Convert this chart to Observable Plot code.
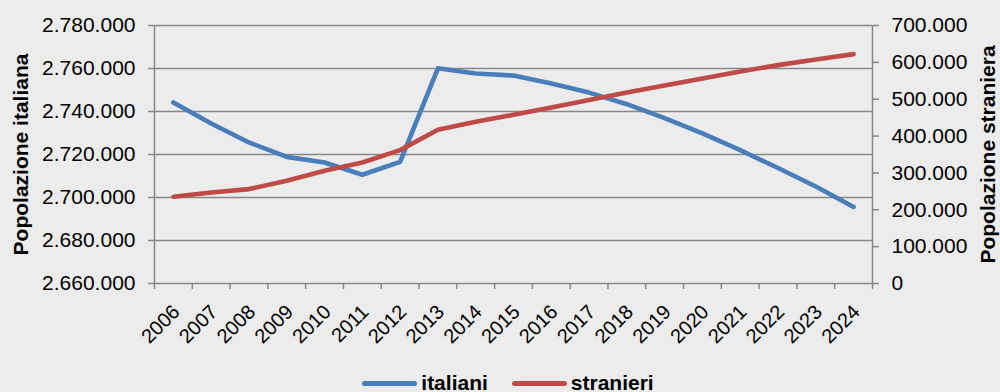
<!DOCTYPE html>
<html>
<head>
<meta charset="utf-8">
<script src="https://cdn.jsdelivr.net/npm/d3@7"></script>
<script src="https://cdn.jsdelivr.net/npm/@observablehq/plot@0.6"></script>
<style>
  html, body { margin: 0; padding: 0; }
  body { background: #ececec; width: 1000px; height: 392px; overflow: hidden; position: relative;
         font-family: "Liberation Sans", Arial, sans-serif; }
  #chart svg { display: block; }
  #legend { position: absolute; top: 368px; left: 0; width: 1000px; height: 30px; box-sizing: border-box;
            padding-left: 16px; display: flex; justify-content: center; align-items: center;
            font-weight: bold; font-size: 21px; color: #000; }
  .sw { display: inline-block; width: 55px; height: 5px; border-radius: 3px; margin-right: 4px; }
  .item { display: flex; align-items: center; }
</style>
</head>
<body>
<div id="chart"></div>
<div id="legend"></div>
<script>
// ---- data ----
const years = [2006, 2007, 2008, 2009, 2010, 2011, 2012, 2013, 2014, 2015, 2016, 2017, 2018, 2019, 2020, 2021, 2022, 2023, 2024];
const italiani = [2744200, 2734400, 2725600, 2718900, 2716300, 2710600, 2716600, 2760100, 2757700, 2756700, 2753000, 2748800, 2743400, 2736900, 2729800, 2722000, 2713700, 2705100, 2695600];
const stranieri = [235200, 246900, 256100, 278600, 305800, 328300, 361900, 417000, 438700, 457700, 477500, 497600, 518000, 537500, 556500, 575000, 592500, 608000, 622400];
const leftTicks = [2660000, 2680000, 2700000, 2720000, 2740000, 2760000, 2780000];
const rightTicks = [0, 100000, 200000, 300000, 400000, 500000, 600000, 700000];
const seriesNames = ["italiani", "stranieri"];
const seriesColors = ["#4a7ebb", "#be4b48"];
const leftTitle = "Popolazione italiana";
const rightTitle = "Popolazione straniera";

// ---- helpers ----
const fmt = d3.formatLocale({decimal: ",", thousands: ".", grouping: [3], currency: ["", "€"]}).format(",d");
const L0 = leftTicks[0], L1 = leftTicks[leftTicks.length - 1];
const R0 = rightTicks[0], R1 = rightTicks[rightTicks.length - 1];
const toLeft = v => L0 + (v - R0) * (L1 - L0) / (R1 - R0);
const fromLeft = d => Math.round((R0 + (d - L0) * (R1 - R0) / (L1 - L0)) / 1000) * 1000;
const boundaries = [years[0] - 0.5, ...years.map(y => y + 0.5)];

const itaData = years.map((y, i) => ({year: y, v: italiani[i]}));
const strData = years.map((y, i) => ({year: y, v: toLeft(stranieri[i])}));

const grid = "#878787";

const chart = Plot.plot({
  width: 1000,
  height: 360,
  marginLeft: 154,
  marginRight: 128,
  marginTop: 25,
  marginBottom: 77,
  style: {background: "transparent", fontFamily: "'Liberation Sans', Arial, sans-serif", fontSize: "21px", color: "#000"},
  x: {type: "linear", domain: [boundaries[0], boundaries[boundaries.length - 1]]},
  y: {domain: [L0, L1]},
  marks: [
    Plot.ruleY(leftTicks, {stroke: grid, strokeWidth: 1.5}),
    Plot.ruleX([boundaries[0], boundaries[boundaries.length - 1]], {stroke: grid, strokeWidth: 1.5}),
    Plot.axisY(leftTicks, {anchor: "left", tickSize: 6, tickPadding: 13, tickFormat: fmt, label: null,
      stroke: grid, strokeWidth: 1.5, fill: "#000", fontSize: 21}),
    Plot.axisY(rightTicks.map(toLeft), {anchor: "right", tickSize: 6, tickPadding: 13, tickFormat: d => fmt(fromLeft(d)), label: null,
      stroke: grid, strokeWidth: 1.5, fill: "#000", fontSize: 21}),
    Plot.axisX(boundaries, {anchor: "bottom", tickSize: 6, tickFormat: () => "", label: null, stroke: grid, strokeWidth: 1.5}),
    Plot.axisX(years, {anchor: "bottom", tickSize: 0, tickRotate: -45, tickPadding: 25, dx: 3, tickFormat: d => String(d), label: null,
      fill: "#000", fontSize: 20}),
    Plot.line(itaData, {x: "year", y: "v", stroke: seriesColors[0], strokeWidth: 4.6, strokeLinecap: "round", strokeLinejoin: "round"}),
    Plot.line(strData, {x: "year", y: "v", stroke: seriesColors[1], strokeWidth: 4.6, strokeLinecap: "round", strokeLinejoin: "round"}),
    Plot.text([leftTitle], {frameAnchor: "left", textAnchor: "middle", lineAnchor: "middle", rotate: -90, dx: -133, fontWeight: "bold", fontSize: 21, fill: "#000"}),
    Plot.text([rightTitle], {frameAnchor: "right", textAnchor: "middle", lineAnchor: "middle", rotate: -90, dx: 116, fontWeight: "bold", fontSize: 21, fill: "#000"})
  ]
});
document.getElementById("chart").appendChild(chart);

// legend
const legend = document.getElementById("legend");
seriesNames.forEach((name, i) => {
  const item = document.createElement("div");
  item.className = "item";
  if (i > 0) item.style.marginLeft = "24px";
  const sw = document.createElement("span");
  sw.className = "sw";
  sw.style.background = seriesColors[i];
  const t = document.createElement("span");
  t.textContent = name;
  item.appendChild(sw);
  item.appendChild(t);
  legend.appendChild(item);
});
</script>
</body>
</html>
